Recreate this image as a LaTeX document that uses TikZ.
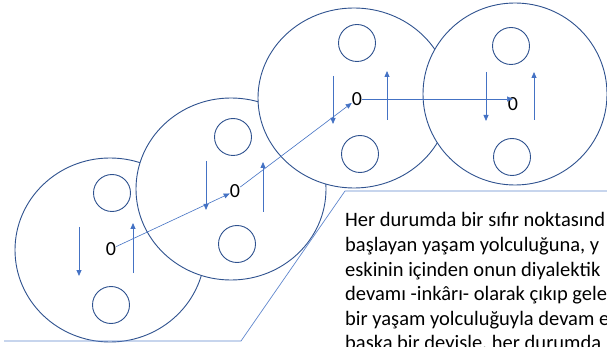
\documentclass[tikz,border=0pt]{standalone}
\usepackage{fontspec}
\setmainfont{Carlito}
\usetikzlibrary{arrows.meta}
\definecolor{ringblue}{HTML}{2F528F}
\definecolor{arrowblue}{HTML}{4472C4}
\tikzset{
  ring/.style={draw=ringblue, fill=white, line width=0.9pt},
  hole/.style={draw=ringblue, line width=0.9pt},
  flow/.style={draw=arrowblue, line width=0.8pt, -{Triangle[length=6pt,width=5pt]}},
  zeroarrow/.style={draw=arrowblue, line width=0.6pt, -{Triangle[length=6pt,width=5pt]}},
  zero/.style={inner sep=0pt, font=\fontsize{20}{22}\selectfont},
  callout/.style={draw=arrowblue!85, line width=0.7pt},
  noteline/.style={anchor=base west, inner sep=0pt, font=\fontsize{20.5}{24}\selectfont}
}
\begin{document}
\begin{tikzpicture}[x=1pt,y=-1pt]
  \useasboundingbox (0,0) rectangle (607,347);
  \clip (0,0) rectangle (607,347);
  % first disk
  \draw[ring] (110,250) ellipse [x radius=95, y radius=92];
  \draw[hole] (112,193) circle [radius=18.5];
  \draw[hole] (111,305) circle [radius=18.5];
  \draw[flow] (79,227) -- (79,276);
  \draw[flow] (133,273) -- (133,223);
  \node[zero] (z1) at (111,249) {0};
  % second disk
  \draw[ring] (231,189) ellipse [x radius=95, y radius=91];
  \draw[hole] (233,137) circle [radius=18.5];
  \draw[hole] (237,244) circle [radius=18.5];
  \draw[flow] (206,161) -- (206,210);
  \draw[flow] (263,212) -- (263,162);
  \node[zero] (z2) at (235,191) {0};
  % third disk
  \draw[ring] (354,98) ellipse [x radius=96, y radius=90];
  \draw[hole] (357,43) circle [radius=18.5];
  \draw[hole] (360,154) circle [radius=18.5];
  \draw[flow] (333,76) -- (333,124);
  \draw[flow] (387,120) -- (387,71);
  \node[zero] (z3) at (357,99) {0};
  % fourth disk
  \draw[ring] (515,94) ellipse [x radius=92, y radius=91];
  \draw[hole] (511,46) circle [radius=18.5];
  \draw[hole] (512,157) circle [radius=18.5];
  \draw[flow] (486,72) -- (486,121);
  \draw[flow] (534,120) -- (534,72);
  \node[zero] (z4) at (513,104) {0};
  % path of the zeros
  \draw[zeroarrow] (z1) -- (z2);
  \draw[zeroarrow] (z2) -- (z3);
  \draw[zeroarrow] (z3.east) -- (z3.east -| z4);
  % callout
  \draw[callout] (4,341) -- (241,341) -- (345,191) -- (607,191);
  \node[noteline] (note1) at (345,227) {Her durumda bir sıfır noktasınd};
  \node[noteline] (note2) at (345,251.5) {başlayan yaşam yolculuğuna, y};
  \node[noteline] (note3) at (345,276) {eskinin içinden onun diyalektik};
  \node[noteline] (note4) at (345,300.5) {devamı -inkârı- olarak çıkıp gele};
  \node[noteline] (note5) at (345,325) {bir yaşam yolculuğuyla devam e};
  \node[noteline] (note6) at (345,349.5) {başka bir deyişle, her durumda};
\end{tikzpicture}
\end{document}
